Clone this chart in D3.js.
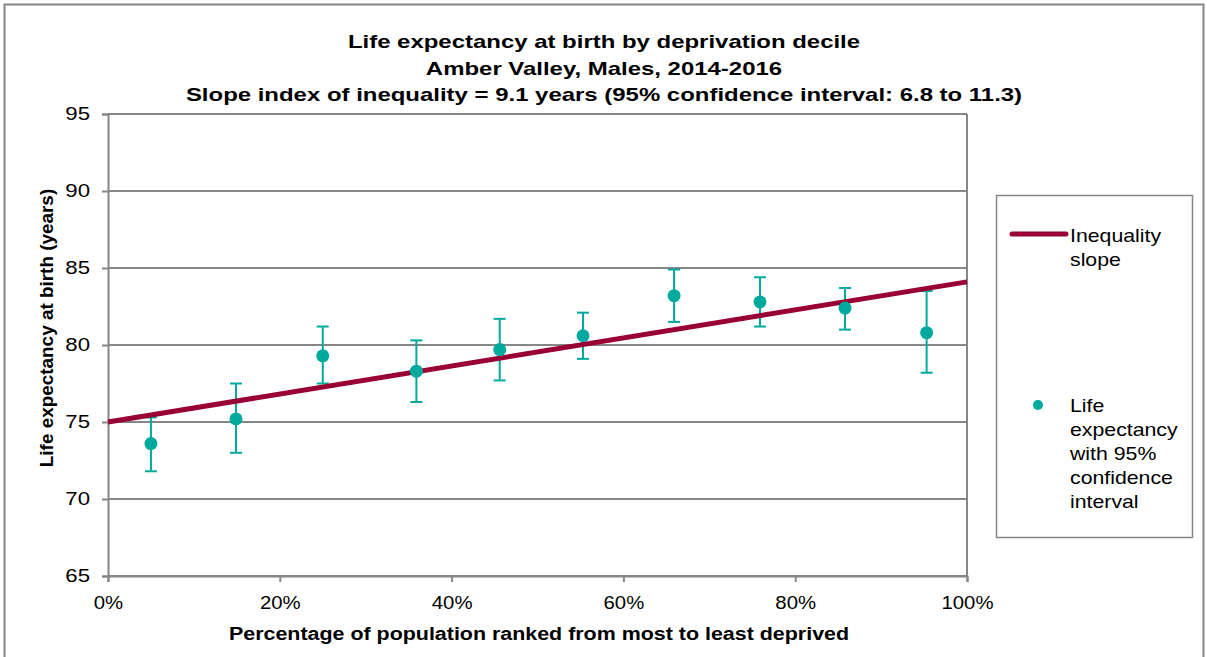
<!DOCTYPE html>
<html>
<head>
<meta charset="utf-8">
<script src="https://cdn.jsdelivr.net/npm/d3@7"></script>
<style>
  body { margin: 0; background: #fff; font-family: "Liberation Sans", Arial, sans-serif; }
</style>
</head>
<body>
<div id="chart"></div>
<script>
// population position (share ranked most -> least deprived) for each decile
const positions = [0.050, 0.149, 0.250, 0.359, 0.456, 0.553, 0.659, 0.759, 0.858, 0.953];
const lifeExp = [73.6, 75.2, 79.3, 78.3, 79.7, 80.6, 83.2, 82.8, 82.4, 80.8];
const lowerCI = [71.8, 73.0, 77.5, 76.3, 77.7, 79.1, 81.5, 81.2, 81.0, 78.2];
const upperCI = [75.3, 77.5, 81.2, 80.3, 81.7, 82.1, 84.9, 84.4, 83.7, 83.5];
// slope index line endpoints
const slopeX = [0, 1];
const slopeY = [75.0, 84.1];
const yTicks = [65, 70, 75, 80, 85, 90, 95];
const xTicks = [0, 0.2, 0.4, 0.6, 0.8, 1];

const titleLines = [
  'Life expectancy at birth by deprivation decile',
  'Amber Valley, Males, 2014-2016',
  'Slope index of inequality = 9.1 years (95% confidence interval: 6.8 to 11.3)'
];

const W = 1207, H = 657;
const margin = { top: 114, left: 108 };
const width = 859, height = 462;
const teal = '#00a99d', maroon = '#990033', grey = '#868686';

// the original export stretches its text sideways a little
const stretch = ratio => s => s.each(function () {
  const len = this.getComputedTextLength();
  d3.select(this).attr('textLength', len * ratio).attr('lengthAdjust', 'spacingAndGlyphs');
});

const svg = d3.select('#chart').append('svg')
  .attr('width', W).attr('height', H);

// outer chart frame
svg.append('path')
  .attr('d', `M4.5,${H}V4.5H1203.5V${H}`)
  .attr('fill', 'none').attr('stroke', grey).attr('stroke-width', 2);

svg.selectAll('.title').data(titleLines).join('text')
  .attr('class', 'title')
  .attr('x', 604)
  .attr('y', (d, i) => 48 + i * 26.5)
  .attr('text-anchor', 'middle')
  .style('font-size', '19px')
  .style('font-weight', 'bold')
  .text(d => d)
  .call(stretch(1.26));

const g = svg.append('g').attr('transform', `translate(${margin.left},${margin.top})`);

const x = d3.scaleLinear().domain([0, 1]).range([0, width]);
const y = d3.scaleLinear().domain([65, 95]).range([height, 0]);

// gridlines
g.append('g')
  .selectAll('line').data(yTicks).join('line')
  .attr('x1', 0).attr('x2', width)
  .attr('y1', d => y(d)).attr('y2', d => y(d))
  .attr('stroke', grey).attr('stroke-width', 2);

g.append('line')
  .attr('x1', width).attr('x2', width).attr('y1', 0).attr('y2', height)
  .attr('stroke', grey).attr('stroke-width', 2);

const yAxis = g.append('g')
  .call(d3.axisLeft(y).tickValues(yTicks).tickSize(6).tickPadding(12));
const xAxis = g.append('g')
  .attr('transform', `translate(0,${height})`)
  .call(d3.axisBottom(x).tickValues(xTicks).tickSize(6).tickPadding(14).tickFormat(d3.format('.0%')));

[yAxis, xAxis].forEach(a => {
  a.select('.domain').attr('stroke', grey).attr('stroke-width', 2);
  a.selectAll('.tick line').attr('stroke', grey).attr('stroke-width', 2);
  a.selectAll('.tick text')
    .style('font-size', '18.5px')
    .style('font-family', '"Liberation Sans", Arial, sans-serif')
    .attr('fill', '#000');
});
yAxis.selectAll('.tick text').call(stretch(1.2));
xAxis.selectAll('.tick text').call(stretch(1.1));

// error bars
const pts = positions.map((p, i) => ({ p, v: lifeExp[i], lo: lowerCI[i], hi: upperCI[i] }));
const eb = g.append('g').attr('stroke', teal).attr('stroke-width', 2);
eb.selectAll('.stem').data(pts).join('line')
  .attr('x1', d => x(d.p)).attr('x2', d => x(d.p))
  .attr('y1', d => y(d.lo)).attr('y2', d => y(d.hi));
eb.selectAll('.capTop').data(pts).join('line')
  .attr('x1', d => x(d.p) - 6).attr('x2', d => x(d.p) + 6)
  .attr('y1', d => y(d.hi)).attr('y2', d => y(d.hi));
eb.selectAll('.capBot').data(pts).join('line')
  .attr('x1', d => x(d.p) - 6).attr('x2', d => x(d.p) + 6)
  .attr('y1', d => y(d.lo)).attr('y2', d => y(d.lo));

// slope line
g.append('path')
  .datum(slopeX.map((d, i) => [d, slopeY[i]]))
  .attr('d', d3.line().x(d => x(d[0])).y(d => y(d[1])))
  .attr('stroke', maroon).attr('stroke-width', 5).attr('fill', 'none');

g.selectAll('.dot').data(pts).join('circle')
  .attr('cx', d => x(d.p)).attr('cy', d => y(d.v))
  .attr('r', 6.5).attr('fill', teal);

// axis titles
svg.append('text')
  .attr('x', 539).attr('y', 640)
  .attr('text-anchor', 'middle')
  .style('font-size', '18px').style('font-weight', 'bold')
  .text('Percentage of population ranked from most to least deprived')
  .call(stretch(1.19));
svg.append('text')
  .attr('transform', 'translate(53,328) rotate(-90)')
  .attr('text-anchor', 'middle')
  .style('font-size', '18px').style('font-weight', 'bold')
  .text('Life expectancy at birth (years)')
  .call(stretch(1.05));

// legend
const lg = svg.append('g');
lg.append('rect')
  .attr('x', 996.5).attr('y', 195.5).attr('width', 196).attr('height', 342)
  .attr('fill', '#fff').attr('stroke', grey).attr('stroke-width', 1.5);
lg.append('line')
  .attr('x1', 1012).attr('x2', 1066).attr('y1', 234).attr('y2', 234)
  .attr('stroke', maroon).attr('stroke-width', 5).attr('stroke-linecap', 'round');
const legendText = (lines, y0) => lg.append('text')
  .attr('x', 1070).attr('y', y0)
  .style('font-size', '19px')
  .selectAll('tspan').data(lines).join('tspan')
  .attr('x', 1070).attr('dy', (d, i) => i ? 24 : 0)
  .text(d => d)
  .call(stretch(1.12));
legendText(['Inequality', 'slope'], 242);
lg.append('circle').attr('cx', 1038).attr('cy', 405).attr('r', 5).attr('fill', teal);
legendText(['Life', 'expectancy', 'with 95%', 'confidence', 'interval'], 412);
</script>
</body>
</html>
